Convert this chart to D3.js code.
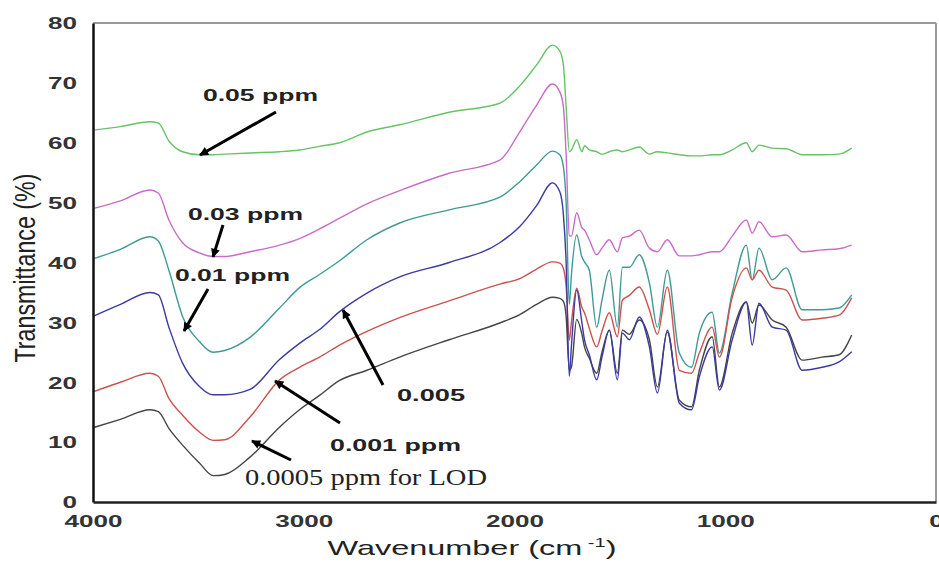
<!DOCTYPE html>
<html><head><meta charset="utf-8">
<script src="https://cdn.jsdelivr.net/npm/d3@7"></script>
<style>body{margin:0;background:#fff}svg{display:block}</style>
</head><body>
<svg id="c" width="939" height="562"></svg>
<script>
// ---- data ----
const wavenumber = [4000,3870,3730,3690,3640,3575,3495,3430,3375,3255,3115,3020,2925,2830,2700,2545,2310,2070,1975,1895,1820,1785,1768,1755,1740,
  1730,1705,1680,1668,1645,1610,1585,1550,1512,1488,1455,1408,1360,1322,1275,1218,1160,1123,1062,1028,967,900,872,840,777,711,635,540,460,400];

const ppm005 = [62.1,62.7,63.5,63.3,60.3,58.5,58.0,58.0,58.1,58.3,58.5,58.8,59.4,60.0,61.8,63.0,65.1,66.6,69.5,73.0,76.3,75.3,73.0,66.0,58.5,
  58.8,60.5,58.5,59.5,58.8,58.5,58.1,58.5,58.8,58.5,58.8,59.3,58.1,58.5,58.3,58.0,57.8,57.8,58.0,58.0,58.8,60.0,58.5,59.6,59.1,59.0,58.0,58.0,58.1,59.1];
const ppm003 = [49.0,50.3,52.1,51.6,47.1,43.3,41.6,41.0,41.0,41.8,42.9,44.0,45.6,47.4,49.8,52.0,54.9,57.1,61.8,66.3,69.8,68.5,66.0,58.0,44.5,
  44.4,48.3,45.8,45.4,43.8,41.3,42.4,43.8,41.8,44.1,44.4,45.4,42.4,41.8,43.8,41.1,41.1,41.3,41.8,41.8,44.4,47.1,44.9,46.8,44.3,44.6,41.8,42.1,42.3,42.9];
const ppm001 = [40.6,42.2,44.3,43.6,38.7,31.0,26.8,25.0,25.3,27.5,32.4,35.8,38.0,40.3,43.8,46.6,48.8,50.9,53.5,56.3,58.6,58.0,56.0,50.0,33.0,
  37.9,44.6,40.9,40.1,38.7,29.2,33.7,38.7,29.2,39.2,39.2,41.3,36.6,29.2,38.7,24.9,22.5,28.2,31.7,24.9,34.9,42.9,37.1,42.4,37.1,39.1,32.1,32.1,32.4,34.6];
const ppm0005 = [31.0,33.0,35.0,34.6,29.2,23.2,19.3,17.9,17.9,18.8,23.8,26.5,28.8,31.8,34.9,37.6,40.0,43.3,46.0,49.5,53.3,51.8,48.0,40.0,21.0,
  26.0,35.4,29.9,27.1,24.6,20.4,24.2,28.7,20.4,28.2,27.1,30.9,25.9,18.2,28.7,16.5,15.4,20.9,25.9,18.7,27.1,33.4,26.2,33.2,29.2,28.7,22.0,22.5,23.4,25.1];
const ppm0001 = [18.4,20.0,21.5,21.0,17.3,14.5,11.7,10.3,10.4,14.2,20.4,22.5,24.2,26.2,28.5,30.8,33.6,36.4,37.3,38.9,40.1,39.9,39.0,36.0,27.0,
  30.0,35.7,32.5,31.6,29.0,25.9,28.5,31.6,27.6,33.7,34.5,35.9,32.1,28.0,35.9,22.0,21.5,24.9,29.2,24.2,34.2,39.1,37.1,38.7,35.9,35.4,30.4,30.7,31.2,34.1];
const ppm00005 = [12.4,13.8,15.4,15.1,12.3,9.5,6.5,4.4,4.6,7.5,12.5,15.4,17.8,20.3,22.0,24.2,27.1,29.9,31.3,33.0,34.2,34.0,33.5,31.0,22.0,
  22.5,30.5,28.0,25.9,24.0,21.5,25.0,28.7,21.5,28.7,28.0,30.4,27.1,19.2,28.4,17.0,15.9,22.0,27.6,19.2,28.2,33.4,29.9,32.9,30.4,29.2,23.7,24.2,24.6,27.9];

const seriesNames = ["0.05 ppm","0.03 ppm","0.01 ppm","0.001 ppm","0.0005 ppm","0.005"];
const seriesValues = [ppm005, ppm003, ppm001, ppm0001, ppm00005, ppm0005];
const seriesColors = ["#66c466","#c96cc9","#3f9a93","#c9534f","#454545","#3a3aa2"];

const yTicks = [0,10,20,30,40,50,60,70,80];
const xTicks = [4000,3000,2000,1000,0];

const annotations = [
  {text:"0.05 ppm", x:203, y:101, w:115, font:"bold 17px 'Liberation Sans', Arial, sans-serif", from:[276,112], to:[200,155]},
  {text:"0.03 ppm", x:188, y:220, w:115, font:"bold 17px 'Liberation Sans', Arial, sans-serif", from:[223,225], to:[213,257]},
  {text:"0.01 ppm", x:175, y:281, w:115, font:"bold 17px 'Liberation Sans', Arial, sans-serif", from:[208,289], to:[184,331]},
  {text:"0.005", x:397, y:401, w:68, font:"bold 17px 'Liberation Sans', Arial, sans-serif", from:[383,385], to:[343,310]},
  {text:"0.001 ppm", x:330, y:451, w:131, font:"bold 17px 'Liberation Sans', Arial, sans-serif", from:[340,423], to:[275,381]},
  {text:"0.0005 ppm for LOD", x:245, y:485, w:242, font:"24px 'Liberation Serif', 'Times New Roman', serif", from:[291,460], to:[252,441]}
];

// ---- chart ----
const svg = d3.select("#c");
const x = d3.scaleLinear().domain([4000,0]).range([93,936]);
const y = d3.scaleLinear().domain([0,80]).range([502,23]);
const SX = 1.58;

svg.append("rect").attr("width",939).attr("height",562).attr("fill","#fff");

// frame: top & right grey
svg.append("line").attr("x1",x(4000)).attr("x2",x(0)).attr("y1",y(80)).attr("y2",y(80))
  .attr("stroke","#9a9a9a").attr("stroke-width",2);
svg.append("line").attr("x1",x(0)).attr("x2",x(0)).attr("y1",y(80)).attr("y2",y(0))
  .attr("stroke","#9a9a9a").attr("stroke-width",2);

// lines
const line = d3.line().x((d,i)=>x(wavenumber[i])).y(d=>y(d)).curve(d3.curveMonotoneX);
seriesValues.forEach((vals,k)=>{
  svg.append("path").datum(vals).attr("d",line)
    .attr("fill","none").attr("stroke",seriesColors[k]).attr("stroke-width",1.4)
    .attr("stroke-linejoin","round");
});

// axes
const yAxis = svg.append("g").attr("transform",`translate(${x(4000)},0)`)
  .call(d3.axisLeft(y).tickValues(yTicks).tickSize(0).tickPadding(0));
yAxis.select(".domain").attr("stroke","#111").attr("stroke-width",2.5);
yAxis.selectAll("text").attr("x",-16).attr("dy","0.35em")
  .style("font","bold 16.5px 'Liberation Sans', Arial, sans-serif").attr("fill","#333");

const xAxis = svg.append("g").attr("transform",`translate(0,${y(0)})`)
  .call(d3.axisBottom(x).tickValues(xTicks).tickFormat(d3.format("d")).tickSize(0).tickPadding(0));
xAxis.select(".domain").attr("stroke","#222").attr("stroke-width",2.5);
xAxis.selectAll("text").attr("y",25).attr("dy",null)
  .style("font","bold 16.5px 'Liberation Sans', Arial, sans-serif").attr("fill","#333");

function stretchTicks(sel){
  sel.each(function(){
    const w = this.getComputedTextLength();
    d3.select(this).attr("textLength", w*SX).attr("lengthAdjust","spacingAndGlyphs");
  });
}
stretchTicks(yAxis.selectAll("text"));
stretchTicks(xAxis.selectAll("text"));

// axis titles
const xt = svg.append("text").attr("x",472).attr("y",555).attr("text-anchor","middle")
  .style("font","21px 'Liberation Sans', Arial, sans-serif").attr("fill","#222");
xt.append("tspan").text("Wavenumber (cm");
xt.append("tspan").attr("dy",-8).style("font-size","13px").text(" -1");
xt.append("tspan").attr("dy",8).text(")");
xt.attr("textLength",289).attr("lengthAdjust","spacingAndGlyphs");

svg.append("text").attr("transform","translate(35,268) scale(1.5,1) rotate(-90)")
  .attr("text-anchor","middle")
  .style("font","20px 'Liberation Sans Narrow', 'Liberation Sans', Arial, sans-serif").attr("fill","#222")
  .attr("textLength",189).attr("lengthAdjust","spacingAndGlyphs")
  .text("Transmittance (%)");

// annotations
svg.append("defs").append("marker").attr("id","ah")
  .attr("viewBox","0 0 10 10").attr("refX",9).attr("refY",5)
  .attr("markerWidth",11).attr("markerHeight",9).attr("markerUnits","userSpaceOnUse")
  .attr("orient","auto")
  .append("path").attr("d","M0,0 L10,5 L0,10 Z").attr("fill","#000");

annotations.forEach(a=>{
  svg.append("line").attr("x1",a.from[0]).attr("y1",a.from[1]).attr("x2",a.to[0]).attr("y2",a.to[1])
    .attr("stroke","#000").attr("stroke-width",3).attr("marker-end","url(#ah)");
  svg.append("text").attr("x",a.x).attr("y",a.y).style("font",a.font).attr("fill","#222")
    .attr("textLength",a.w).attr("lengthAdjust","spacingAndGlyphs").text(a.text);
});
</script>
</body></html>
